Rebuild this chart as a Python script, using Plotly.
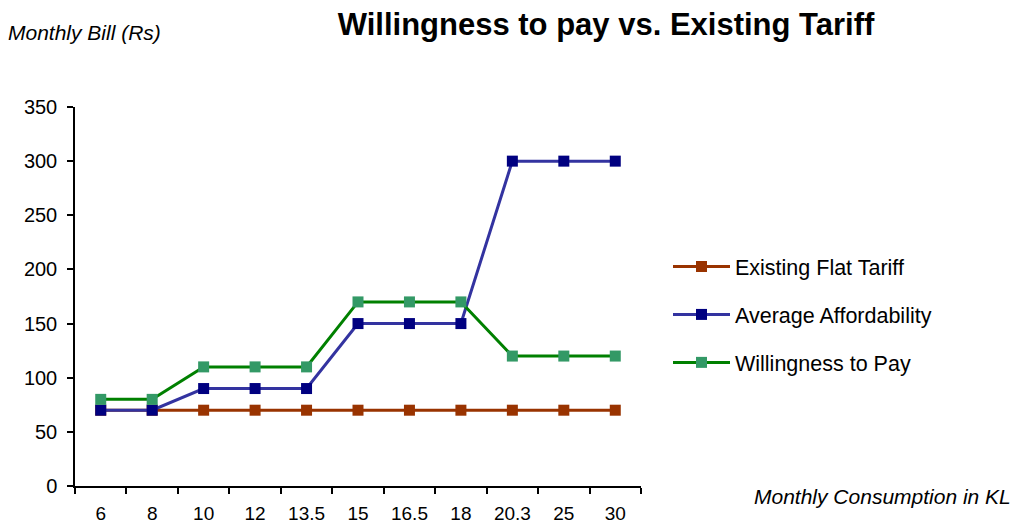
import plotly.graph_objects as go

categories = ["6", "8", "10", "12", "13.5", "15", "16.5", "18", "20.3", "25", "30"]
existing_flat_tariff = [70, 70, 70, 70, 70, 70, 70, 70, 70, 70, 70]
average_affordability = [70, 70, 90, 90, 90, 150, 150, 150, 300, 300, 300]
willingness_to_pay = [80, 80, 110, 110, 110, 170, 170, 170, 120, 120, 120]
y_ticks = [0, 50, 100, 150, 200, 250, 300, 350]

FONT = "Liberation Sans, Arial, sans-serif"

series = [
    ("Existing Flat Tariff", existing_flat_tariff, "#993300", "#993300"),
    ("Average Affordability", average_affordability, "#3333A0", "#000080"),
    ("Willingness to Pay", willingness_to_pay, "#008000", "#339966"),
]

fig = go.Figure()
for i, (name, vals, lc, mc) in enumerate(series):
    fig.add_trace(go.Scatter(
        x=categories, y=vals, name=name, mode="lines+markers",
        line=dict(color=lc, width=3),
        marker=dict(symbol="square", size=11, color=mc),
        legendgroup=f"g{i}",
    ))

fig.update_layout(
    width=1016, height=525,
    margin=dict(l=75, r=375, t=107, b=39),
    paper_bgcolor="white", plot_bgcolor="white",
    font=dict(family=FONT, size=20, color="black"),
    showlegend=True,
    legend=dict(
        xref="container", yref="container",
        x=668 / 1016, y=1 - 246 / 525, xanchor="left", yanchor="top",
        font=dict(family=FONT, size=21.5, color="black"),
        tracegroupgap=17, traceorder="grouped", itemwidth=57,
        bgcolor="rgba(0,0,0,0)",
    ),
    xaxis=dict(
        type="category", categoryorder="array", categoryarray=categories,
        showline=True, linecolor="black", linewidth=1.5,
        ticks="outside", tickson="boundaries", ticklen=6, tickwidth=1.5, tickcolor="black",
        showgrid=False, zeroline=False, ticklabelstandoff=9, automargin=False,
        tickfont=dict(family=FONT, size=19, color="black"),
        range=[-0.5, len(categories) - 0.5],
    ),
    yaxis=dict(
        range=[0, 350], tickvals=y_ticks,
        showline=True, linecolor="black", linewidth=1.5,
        ticks="outside", ticklen=6, tickwidth=1.5, tickcolor="black",
        showgrid=False, zeroline=False, ticklabelstandoff=6, automargin=False,
        tickfont=dict(family=FONT, size=20, color="black"),
    ),
    title=dict(
        text="<b>Willingness to pay vs. Existing Tariff</b>",
        xref="container", yref="container",
        x=606 / 1016, y=1 - 24 / 525, xanchor="center", yanchor="middle",
        font=dict(family=FONT, size=31, color="black"),
    ),
    annotations=[
        dict(text="<i>Monthly Bill (Rs)</i>", xref="paper", yref="paper",
             x=-75 / 566, y=(486 - 32) / 379, xanchor="left", yanchor="middle",
             xshift=6, showarrow=False,
             font=dict(family=FONT, size=21, color="black")),
        dict(text="<i>Monthly Consumption in KL</i>", xref="paper", yref="paper",
             x=(1013 - 75) / 566, y=-10 / 379, xanchor="right", yanchor="middle",
             showarrow=False,
             font=dict(family=FONT, size=21, color="black")),
    ],
)

fig.write_html(
    "out.html",
    config={"displayModeBar": False, "responsive": False},
    default_width="1016px", default_height="525px",
    post_script="document.body.style.margin='0';document.body.style.overflow='hidden';",
)
